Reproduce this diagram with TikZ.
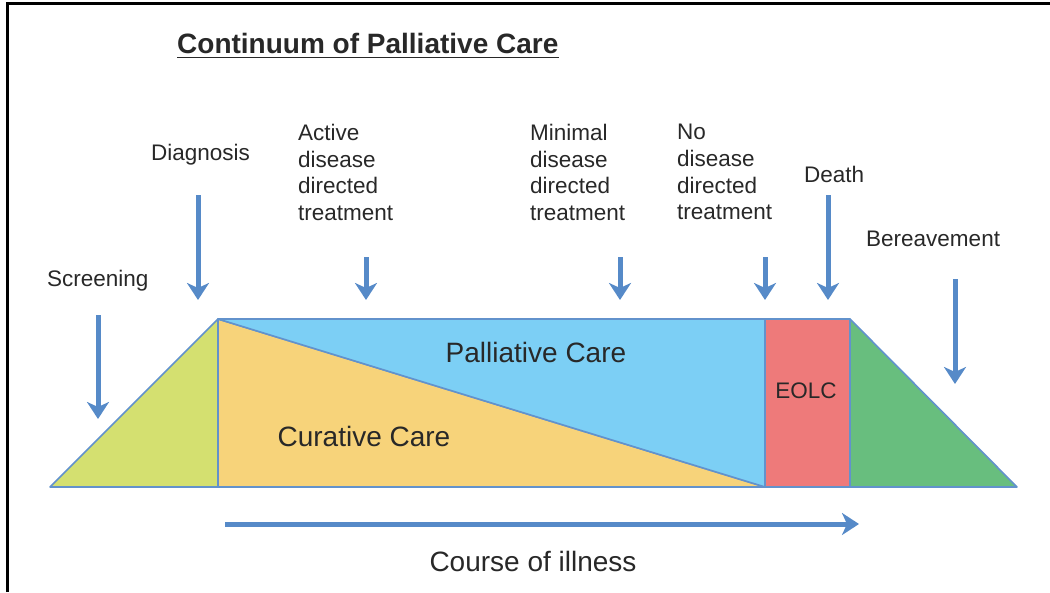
\documentclass[tikz,border=0pt]{standalone}
\usepackage{fontspec}
\setmainfont{Liberation Sans}
\usepackage{xcolor}
\usetikzlibrary{arrows.meta,positioning}

\definecolor{arrowblue}{RGB}{86,138,200}
\definecolor{edgeblue}{RGB}{98,146,204}
\definecolor{limefill}{RGB}{212,224,112}
\definecolor{curefill}{RGB}{247,211,122}
\definecolor{palfill}{RGB}{124,207,245}
\definecolor{eolcfill}{RGB}{238,122,122}
\definecolor{grieffill}{RGB}{104,190,126}
\definecolor{inkgray}{RGB}{40,40,40}

\tikzset{
  stage/.style={draw=edgeblue,line width=1.6pt,line join=round},
  pointer/.style={->,draw=arrowblue,fill=arrowblue,line width=5pt},
  lbl/.style={inner sep=0pt,align=left,text=inkgray,font=\fontsize{22.5}{26.7}\selectfont},
  arealbl/.style={inner sep=0pt,text=inkgray,font=\fontsize{28}{32}\selectfont}
}

\begin{document}
\begin{tikzpicture}[x=1pt,y=-1pt,>={Stealth[length=17pt,width=22pt,inset=5pt]}]
  \useasboundingbox (0,0) rectangle (1050,592);
  \draw[line width=3pt] (7,592) -- (7,3) -- (1050,3);

  \node[anchor=base west,inner sep=0pt,text=inkgray,font=\bfseries\fontsize{28}{32}\selectfont] (title) at (177,53) {Continuum of Palliative Care};
  \draw[line width=1.8pt,inkgray] ([yshift=-4.5pt]title.base west) -- ([yshift=-4.5pt]title.base east);

  % corners of the stages
  \coordinate (start) at (50,487);
  \coordinate (diagtop) at (218,319);
  \coordinate (diagbot) at (218,487);
  \coordinate (eolctop) at (765,319);
  \coordinate (eolcbot) at (765,487);
  \coordinate (deathtop) at (850,319);
  \coordinate (deathbot) at (850,487);
  \coordinate (finish) at (1017,487);

  \filldraw[stage,fill=limefill] (start) -- (diagtop) -- (diagbot) -- cycle;
  \filldraw[stage,fill=curefill] (diagtop) -- (eolcbot) -- (diagbot) -- cycle;
  \filldraw[stage,fill=palfill] (diagtop) -- (eolctop) -- (eolcbot) -- cycle;
  \filldraw[stage,fill=eolcfill] (eolctop) rectangle (deathbot);
  \filldraw[stage,fill=grieffill] (deathtop) -- (finish) -- (deathbot) -- cycle;

  \node[arealbl,anchor=base] (pal) at (536,362) {Palliative Care};
  \node[arealbl,anchor=base] (cure) at (364,446) {Curative Care};
  \node[lbl,anchor=base] (eolc) at (806,398) {EOLC};

  \node[lbl,anchor=base west] (screen) at (47,286) {Screening};
  \node[lbl,anchor=base west] (diag) at (151,160) {Diagnosis};
  \node[lbl,anchor=north west] (active) at (298,124) {Active\\disease\\directed\\treatment};
  \node[lbl,anchor=north west] (minimal) at (530,124) {Minimal\\disease\\directed\\treatment};
  \node[lbl,anchor=north west] (nodis) at (677,124) {No\\disease\\directed\\treatment};
  \node[lbl,anchor=base west] (death) at (804,182) {Death};
  \node[lbl,anchor=base west] (bereave) at (866,246) {Bereavement};

  \foreach \n/\x/\a/\b in {screen/98/315/419,diag/198/195/300,active/366/257/300,
      minimal/620/257/300,nodis/765/257/300,death/828/195/300,bereave/955/279/384}{
    \coordinate (\n-top) at (\x,\a);
    \coordinate (\n-tip) at (\x,\b);
    \draw[pointer] (\n-top) -- (\n-tip);
  }

  \coordinate (course-top) at (225,524);
  \coordinate (course-tip) at (859,524);
  \draw[pointer] (course-top) -- (course-tip);
  \node[arealbl,anchor=base] (course) at (533,571) {Course of illness};
\end{tikzpicture}
\end{document}
